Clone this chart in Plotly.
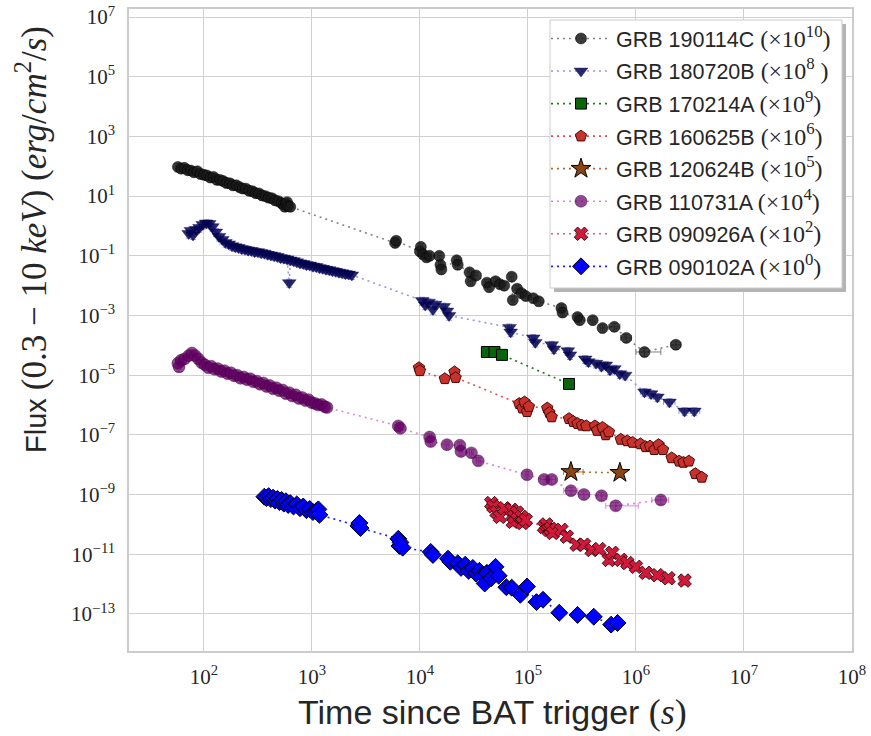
import plotly.graph_objects as go

# ---------------------------------------------------------------------------
# DATA  (flux values as plotted, i.e. already multiplied by the legend factor)
# ---------------------------------------------------------------------------
names = ["GRB 190114C", "GRB 180720B", "GRB 170214A", "GRB 160625B",
         "GRB 120624B", "GRB 110731A", "GRB 090926A", "GRB 090102A"]
scale_exp = ["10", "8", "9", "6", "5", "4", "2", "0"]
scale_pad = ["", " ", "", "", "", "", "", ""]

t_190114C = [57.5, 61.7, 66.1, 70.8, 75.9, 81.3, 87.1, 93.3, 100, 107, 115, 123, 132, 141,
             151, 162, 174, 186, 200, 214, 229, 245, 263, 282, 302, 324, 347, 372, 398, 427,
             457, 490, 525, 550, 562, 575, 589, 603, 631,
             5890, 6030, 1.0e4, 1.02e4, 1.07e4, 1.15e4, 1.23e4, 1.51e4, 1.55e4, 1.58e4, 2.19e4,
             2.24e4, 2.88e4, 2.95e4, 3.31e4, 4.17e4, 4.37e4, 5.01e4, 5.5e4, 6.03e4, 7.08e4,
             7.24e4, 7.94e4, 8.71e4, 9.55e4, 1.12e5, 1.26e5, 2.04e5, 2.09e5, 2.88e5, 3.02e5,
             3.98e5, 4.9e5, 6.31e5, 8.13e5, 1.2e6, 2.34e6]
f_190114C = [95, 83, 89, 74, 72, 63, 68, 55, 52, 49, 42, 44, 35, 35,
             32, 27.5, 27, 23, 23, 20, 18, 17.8, 15.1, 14.5, 12.6, 12.3, 10.5, 10, 8.9, 8.5,
             7.2, 6.8, 5.75, 5.25, 4.4, 5.5, 6.3, 4.6, 4.4,
             0.27, 0.32, 0.141, 0.2, 0.112, 0.089, 0.10, 0.10, 0.05, 0.035, 0.071,
             0.05, 0.028, 0.014, 0.022, 0.0126, 0.0089, 0.0141, 0.0112, 0.01, 0.02,
             0.0033, 0.0079, 0.0056, 0.0045, 0.0038, 0.003, 0.00178, 0.00126, 0.00089, 0.0007,
             0.0007, 0.00038, 0.00042, 0.000178, 6.0e-5, 1.05e-4]
wide_190114C = {6.31e5: (5.6e5, 7.1e5), 8.13e5: (7.2e5, 9.1e5),
                1.2e6: (1.0e6, 1.7e6), 2.34e6: (2.1e6, 2.6e6)}

t_180720B = [72.4, 75.9, 79.4, 85.1, 91.2, 97.7, 105,
             112, 120, 129, 138, 148, 158, 170, 182, 195, 209, 224, 240, 257, 275, 295, 316,
             339, 363, 389, 417, 447, 479, 513, 550, 589, 617, 631, 676, 724, 776, 832, 891,
             955, 1023, 1096, 1175, 1259, 1349, 1445, 1549, 1660, 1778, 1905, 2042, 2188, 2344,
             1.05e4, 1.12e4, 1.2e4, 1.32e4, 1.38e4, 1.66e4, 1.78e4, 1.86e4, 6.76e4, 6.92e4,
             1.12e5, 1.17e5, 1.66e5, 1.74e5, 2.34e5, 2.45e5, 3.39e5, 3.63e5, 4.27e5, 4.79e5,
             5.25e5, 5.75e5, 6.31e5, 7.08e5, 7.94e5, 1.2e6, 1.38e6, 1.58e6, 2.04e6, 2.82e6, 3.47e6]
f_180720B = [0.56, 0.71, 0.50, 0.76, 0.89, 1.12, 1.26,
             1.20, 0.95, 0.63, 0.447, 0.355, 0.282, 0.251, 0.219, 0.20, 0.19, 0.174, 0.166,
             0.155, 0.151, 0.138, 0.138, 0.126, 0.123, 0.112, 0.107, 0.10, 0.0955, 0.087, 0.083,
             0.079, 0.0126, 0.072, 0.069, 0.063, 0.0575, 0.055, 0.050, 0.049, 0.0447, 0.0437,
             0.0398, 0.038, 0.0355, 0.0339, 0.0316, 0.0302, 0.0282, 0.0269, 0.0251, 0.0245, 0.0229,
             0.00316, 0.00224, 0.0028, 0.00158, 0.0024, 0.002, 0.00141, 0.001, 0.0004, 0.00028,
             0.000178, 0.000126, 0.000105, 7.6e-5, 6.6e-5, 4.8e-5, 3.5e-5, 2.8e-5, 2.5e-5, 2.0e-5,
             2.2e-5, 1.5e-5, 1.66e-5, 1.12e-5, 1.0e-5, 2.75e-6, 2.4e-6, 1.86e-6, 1.26e-6, 6.3e-7, 6.3e-7]
wide_180720B = {1.2e6: (1.1e6, 1.3e6), 1.38e6: (1.28e6, 1.5e6), 1.58e6: (1.45e6, 1.72e6),
                2.04e6: (1.8e6, 2.3e6), 2.82e6: (2.5e6, 3.2e6), 3.47e6: (3.1e6, 3.9e6)}

t_170214A = [4.17e4, 4.9e4, 5.75e4, 2.4e5]
f_170214A = [6.0e-5, 6.0e-5, 4.8e-5, 5.1e-6]
wide_170214A = {2.4e5: (2.28e5, 2.7e5)}

t_160625B = [9.8e3, 1.0e4, 1.7e4, 2.09e4, 2.14e4, 8.3e4, 8.9e4, 9.3e4, 9.8e4, 1.02e5,
             1.51e5, 1.58e5, 1.66e5, 2.4e5, 2.63e5, 2.88e5, 3.16e5, 3.47e5, 4.17e5, 4.37e5,
             4.9e5, 5.25e5, 5.62e5, 7.24e5, 8.3e5, 9.3e5, 1.1e6, 1.23e6, 1.35e6, 1.48e6,
             1.62e6, 1.78e6, 2.14e6, 2.51e6, 2.75e6, 3.09e6, 3.55e6, 4.07e6]
f_160625B = [1.78e-5, 1.41e-5, 7.6e-6, 1.29e-5, 8.3e-6, 1.12e-6, 7.9e-7, 1.26e-6, 6.0e-7, 8.9e-7,
             7.9e-7, 5.6e-7, 4.0e-7, 3.5e-7, 2.8e-7, 2.4e-7, 2.1e-7, 2.0e-7, 2.0e-7, 1.41e-7,
             1.78e-7, 1.0e-7, 1.26e-7, 7.1e-8, 6.3e-8, 5.6e-8, 5.0e-8, 4.0e-8, 4.2e-8, 3.2e-8,
             4.7e-8, 3.2e-8, 1.7e-8, 1.32e-8, 1.2e-8, 1.32e-8, 5.0e-9, 3.8e-9]
wide_160625B = {3.55e6: (3.3e6, 3.85e6), 4.07e6: (3.8e6, 4.4e6)}

t_120624B = [2.5e5, 7.1e5]
f_120624B = [5.75e-9, 5.4e-9]
wide_120624B = {2.5e5: (2.14e5, 3.24e5)}

t_110731A = [57.5, 58.9, 61.7, 66.1, 72.4, 77.6, 83.2, 89.1, 95.5, 102, 110, 117, 126, 135,
             145, 155, 166, 178, 191, 204, 219, 234, 251, 269, 288, 309, 331, 355, 380, 407,
             437, 468, 501, 537, 575, 617, 661, 708, 759, 813, 871, 933, 1000, 1072, 1148,
             1230, 1318, 1380,
             6300, 6600, 1.23e4, 1.26e4, 1.78e4, 2.34e4, 2.4e4, 3.0e4, 3.47e4, 9.8e4,
             1.41e5, 1.66e5, 2.5e5, 3.3e5, 4.8e5, 6.5e5, 1.7e6]
f_110731A = [2.5e-5, 1.9e-5, 3.2e-5, 3.5e-5, 4.5e-5, 5.6e-5, 4.5e-5, 3.5e-5, 2.6e-5, 2.24e-5,
             1.78e-5, 2.0e-5, 1.58e-5, 1.66e-5, 1.32e-5, 1.41e-5, 1.12e-5, 1.2e-5, 9.5e-6,
             1.0e-5, 7.9e-6, 8.7e-6, 7.1e-6, 7.6e-6, 6.0e-6, 6.3e-6, 5.0e-6, 5.5e-6, 4.2e-6,
             4.5e-6, 3.5e-6, 3.8e-6, 3.0e-6, 3.2e-6, 2.4e-6, 2.6e-6, 2.0e-6, 2.2e-6, 1.66e-6,
             1.78e-6, 1.41e-6, 1.51e-6, 1.2e-6, 1.12e-6, 1.0e-6, 1.05e-6, 8.7e-7, 8.3e-7,
             2.0e-7, 1.66e-7, 8.5e-8, 6.0e-8, 4.7e-8, 4.5e-8, 2.8e-8, 2.5e-8, 1.35e-8, 4.6e-9,
             3.2e-9, 3.2e-9, 1.35e-9, 1.0e-9, 9.1e-10, 4.2e-10, 6.6e-10]
wide_110731A = {1.41e5: (1.3e5, 1.55e5), 1.66e5: (1.55e5, 1.8e5), 2.5e5: (2.14e5, 2.9e5),
                3.3e5: (2.95e5, 3.7e5), 4.8e5: (4.3e5, 5.3e5), 6.5e5: (5.25e5, 1.05e6),
                1.7e6: (1.4e6, 2.0e6)}

t_090926A = [4.57e4, 4.79e4, 5.13e4, 5.5e4, 6.03e4, 7.08e4, 7.24e4, 7.41e4, 7.94e4, 8.71e4,
             8.9e4, 9.55e4, 1.41e5, 1.48e5, 1.55e5, 1.62e5, 1.7e5, 2.04e5, 2.29e5, 2.82e5,
             3.31e5, 3.89e5, 4.57e5, 5.62e5, 6.03e5, 7.24e5, 8.32e5, 1.0e6, 1.23e6, 1.58e6,
             2.0e6, 2.82e6]
f_090926A = [5.2e-10, 4.0e-10, 2.6e-10, 1.8e-10, 3.5e-10, 3.1e-10, 1.23e-10, 1.8e-10, 2.5e-10,
             1.8e-10, 1.12e-10, 1.41e-10, 8.3e-11, 1.0e-10, 6.6e-11, 7.1e-11, 5.2e-11, 6.6e-11,
             3.9e-11, 2.1e-11, 2.1e-11, 1.4e-11, 1.5e-11, 6.5e-12, 1.12e-11, 6.5e-12, 5.1e-12,
             3.8e-12, 2.4e-12, 2.0e-12, 1.58e-12, 1.32e-12]
wide_090926A = {2.0e6: (1.85e6, 2.2e6), 2.82e6: (2.55e6, 3.1e6)}

t_090102A = [363, 380, 398, 417, 437, 457, 479, 501, 525, 550, 575, 603, 631, 676, 724, 776,
             832, 891, 955, 1023, 1096, 1148, 1175,
             2692, 2754, 2818, 6310, 6457, 6607, 6918, 1.26e4, 1.32e4, 1.82e4, 1.91e4, 2.24e4,
             2.4e4, 2.63e4, 2.82e4, 3.09e4, 3.31e4, 3.55e4, 3.8e4, 3.98e4, 4.17e4, 4.57e4,
             5.01e4, 5.37e4, 6.31e4, 7.08e4, 8.5e4, 9.8e4, 1.2e5, 1.38e5, 1.95e5, 2.88e5,
             4.07e5, 5.89e5, 6.76e5]
f_090102A = [8.5e-10, 7.6e-10, 8.9e-10, 7.1e-10, 7.9e-10, 6.3e-10, 7.2e-10, 5.6e-10, 6.6e-10,
             5.0e-10, 6.0e-10, 4.5e-10, 5.2e-10, 4.0e-10, 4.7e-10, 3.5e-10, 4.0e-10, 3.0e-10,
             3.3e-10, 2.6e-10, 2.8e-10, 3.2e-10, 2.1e-10,
             8.9e-11, 1.12e-10, 7.6e-11, 3.3e-11, 1.9e-11, 2.5e-11, 1.66e-11, 1.2e-11, 9.5e-12,
             7.1e-12, 5.6e-12, 5.0e-12, 3.5e-12, 4.5e-12, 2.8e-12, 3.5e-12, 2.24e-12, 2.8e-12,
             2.0e-12, 1.05e-12, 2.4e-12, 1.58e-12, 3.8e-12, 1.9e-12, 7.9e-13, 7.6e-13, 4.4e-13,
             8.3e-13, 2.5e-13, 3.0e-13, 1.1e-13, 9.3e-14, 8.1e-14, 4.4e-14, 5.0e-14]
wide_090102A = {1.2e5: (1.1e5, 1.32e5), 1.95e5: (1.8e5, 2.12e5), 2.88e5: (2.68e5, 3.1e5),
                4.07e5: (3.7e5, 4.45e5)}

x_tick_exp = [2, 3, 4, 5, 6, 7, 8]
y_tick_exp = [-13, -11, -9, -7, -5, -3, -1, 1, 3, 5, 7]

# ---------------------------------------------------------------------------
# STYLE
# ---------------------------------------------------------------------------
series = [
    (t_190114C, f_190114C, wide_190114C, dict(symbol="circle", size=11, color="rgba(25,25,25,0.85)",
     line=dict(color="rgba(0,0,0,0.6)", width=0.8)), "rgba(90,90,90,0.75)", "rgba(120,120,120,0.9)"),
    (t_180720B, f_180720B, wide_180720B, dict(symbol="triangle-down", size=12, color="rgba(5,5,85,0.85)",
     line=dict(color="rgba(0,0,60,0.6)", width=0.6)), "rgba(100,100,220,0.65)", "rgba(140,140,220,0.9)"),
    (t_170214A, f_170214A, wide_170214A, dict(symbol="square", size=11, color="#0a640a",
     line=dict(color="black", width=1)), "#2a8a2a", "#1a7a1a"),
    (t_160625B, f_160625B, wide_160625B, dict(symbol="pentagon", size=12, color="rgb(200,50,45)",
     line=dict(color="rgba(60,0,0,0.9)", width=1)), "rgba(220,60,60,0.8)", "rgba(215,60,60,0.9)"),
    (t_120624B, f_120624B, wide_120624B, dict(symbol="star", size=15, color="#8b4513",
     line=dict(color="black", width=1)), "#c0702a", "#b06a35"),
    (t_110731A, f_110731A, wide_110731A, dict(symbol="circle", size=12, color="rgba(100,0,100,0.72)",
     line=dict(color="rgba(50,0,50,0.5)", width=0.8)), "rgba(210,110,210,0.8)", "rgba(215,120,215,0.9)"),
    (t_090926A, f_090926A, wide_090926A, dict(symbol="x", size=12, color="rgb(210,25,60)",
     line=dict(color="rgba(40,0,0,0.85)", width=1)), "rgba(240,90,120,0.8)", "rgba(225,70,100,0.9)"),
    (t_090102A, f_090102A, wide_090102A, dict(symbol="diamond", size=13, color="#0000ff",
     line=dict(color="black", width=1)), "rgba(40,40,255,0.8)", "rgba(30,30,255,1)"),
]

MATH = "font-family:'Liberation Serif'"

fig = go.Figure()
for i, (ts, fs, wide, mk, ecol, lcol) in enumerate(series):
    xp, xm = [], []
    for t in ts:
        if t in wide:
            lo, hi = wide[t]
            xm.append(t - lo)
            xp.append(hi - t)
        else:
            xm.append(0.04 * t)
            xp.append(0.04 * t)
    label = (f"{names[i]} <span style=\"{MATH};font-size:24px\">(×10<sup>{scale_exp[i]}</sup>"
             f"{scale_pad[i]})</span>")
    fig.add_trace(go.Scatter(
        x=ts, y=fs, name=label, mode="lines+markers",
        legendgroup=f"g{i}",
        line=dict(color=lcol, width=1.6, dash="2px,4px"),
        marker=mk,
        error_x=dict(type="data", array=xp, arrayminus=xm, color=ecol, thickness=1, width=3),
        error_y=dict(type="percent", value=30, color=ecol, thickness=1, width=3),
    ))

# geometry in window pixels
W, H = 871, 736
L, R, T, B = 129, 852, 9, 651


def px_x(px):
    return (px - L) / (R - L)


def px_y(py):
    return 1 - (py - T) / (B - T)


axis_common = dict(
    type="log", showgrid=True, gridcolor="#d0d0d0", gridwidth=1,
    showline=True, linecolor="#cccccc", linewidth=1.5, mirror=True,
    ticks="", zeroline=False, ticklabeloverflow="allow",
    tickfont=dict(family="Liberation Serif", size=21, color="#262626"),
)

fig.update_layout(
    width=W, height=H,
    margin=dict(l=L, r=W - R, t=T, b=H - B, autoexpand=False),
    paper_bgcolor="white", plot_bgcolor="white",
    xaxis=dict(axis_common, range=[1.307, 8.0],
               tickvals=[10.0 ** e for e in x_tick_exp],
               ticktext=[f"10<sup>{e}</sup>" for e in x_tick_exp],
               ticklabelstandoff=6),
    yaxis=dict(axis_common, range=[-14.24, 7.27],
               tickvals=[10.0 ** e for e in y_tick_exp],
               ticktext=[f"10<sup>{str(e).replace('-', '−')}</sup>" for e in y_tick_exp],
               ticklabelstandoff=8),
    showlegend=True,
    legend=dict(x=px_x(546), y=px_y(18), xanchor="left", yanchor="top",
                bgcolor="rgba(0,0,0,0)", borderwidth=0,
                font=dict(family="Liberation Sans", size=21.5, color="#262626"),
                itemwidth=60, tracegroupgap=1.6, traceorder="grouped"),
    shapes=[
        dict(type="rect", xref="paper", yref="paper", layer="above",
             x0=px_x(554), x1=px_x(846), y0=px_y(292), y1=px_y(24),
             fillcolor="#b4b4b4", line=dict(width=0)),
        dict(type="rect", xref="paper", yref="paper", layer="above",
             x0=px_x(550), x1=px_x(842), y0=px_y(288), y1=px_y(20),
             fillcolor="white", line=dict(color="#cccccc", width=1)),
    ],
    annotations=[
        dict(xref="paper", yref="paper", x=px_x(492), y=px_y(712),
             xanchor="center", yanchor="middle", showarrow=False,
             text=(f"Time since BAT trigger <span style=\"{MATH};font-size:36px\">"
                   f"(<i>s</i>)</span>"),
             font=dict(family="Liberation Sans", size=34, color="#262626")),
        dict(xref="paper", yref="paper", x=px_x(31), y=px_y(240),
             xanchor="center", yanchor="middle", showarrow=False, textangle=-90,
             text=(f"Flux <span style=\"{MATH};font-size:35px\">(0.3 − 10 <i>keV</i>) "
                   f"(<i>erg</i>/<i>cm</i><sup>2</sup>/<i>s</i>)</span>"),
             font=dict(family="Liberation Sans", size=29, color="#262626")),
    ],
)

# the page is shown edge to edge, without the browser's default body margin
fig.write_html("out.html", config={"displayModeBar": False},
               post_script="document.body.style.margin = '0';")
